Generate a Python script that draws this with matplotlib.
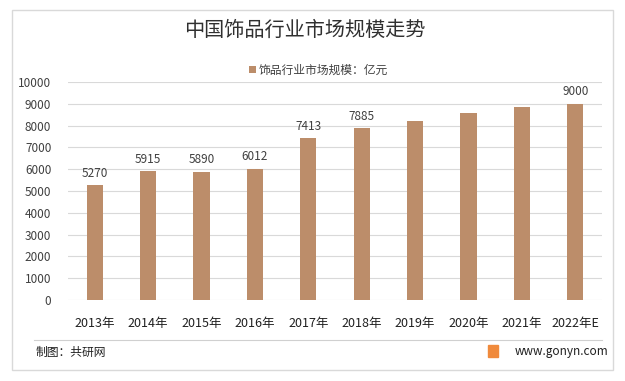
import numpy as np
import matplotlib
matplotlib.use('Agg')
import matplotlib.pyplot as plt
from matplotlib.patches import Rectangle

plt.rcParams['font.family'] = ['Noto Sans CJK SC', 'DejaVu Sans']

## data
years = ['2013年', '2014年', '2015年', '2016年', '2017年',
         '2018年', '2019年', '2020年', '2021年', '2022年E']
values = [5270, 5915, 5890, 6012, 7413, 7885, 8230, 8600, 8870, 9000]
labelled = [True, True, True, True, True, True, False, False, False, True]

bar_color = '#BC8D6A'
text_color = '#404040'

fig = plt.figure(figsize=(6.25, 3.81), dpi=100)
fig.patch.set_facecolor('white')

# outer border
fig.patches.append(Rectangle((12/625, 1-370/381), 601/625, 360/381,
                             transform=fig.transFigure, fill=False,
                             edgecolor='#D9D9D9', linewidth=1))

ax = fig.add_axes([68/625, 1-300/381, 534/625, 218/381])
x = np.arange(len(years))
bars = ax.bar(x, values, width=0.3, color=bar_color, zorder=3,
              label='饰品行业市场规模：亿元')

for xi, v, show in zip(x, values, labelled):
    if show:
        ax.text(xi, v + 250, str(v), ha='center', va='bottom',
                fontsize=8.5, color=text_color)

ax.set_xlim(-0.5, len(years) - 0.5)
ax.set_ylim(0, 10000)
ax.set_yticks(np.arange(0, 10001, 1000))
ax.yaxis.grid(True, color='#D9D9D9', linewidth=0.8, zorder=0)
ax.set_xticks(x)
ax.set_xticklabels(years, fontsize=9, color='#202020')
ax.tick_params(axis='y', labelsize=8.5, labelcolor=text_color, length=0, pad=12)
ax.tick_params(axis='x', length=0, pad=12)
for s in ax.spines.values():
    s.set_visible(False)

# title and legend
fig.text(0.487, 1-30/381, '中国饰品行业市场规模走势', ha='center', va='center',
         fontsize=14.5, color='#303030')
fig.legend(handles=[bars], labels=['饰品行业市场规模：亿元'], loc='center',
           bbox_to_anchor=(0.51, 1-70/381), frameon=False, fontsize=8.5,
           handlelength=0.6, handleheight=0.6, handletextpad=0.2,
           labelcolor=text_color)

# footer
fig.add_artist(plt.Line2D([34/625, 602/625], [1-340/381, 1-340/381],
                          transform=fig.transFigure, color='#D0D0D0', linewidth=0.8))
fig.text(36/625, 1-352/381, '制图：共研网', ha='left', va='center',
         fontsize=8.5, color='#202020')
fig.patches.append(Rectangle((488/625, 1-357/381), 10/625, 12/381,
                             transform=fig.transFigure, color='#F08A3C'))
fig.text(608/625, 1-351/381, 'www.gonyn.com', ha='right', va='center',
         fontsize=8.5, color='#202020')

fig.savefig('out.png', dpi=100)
